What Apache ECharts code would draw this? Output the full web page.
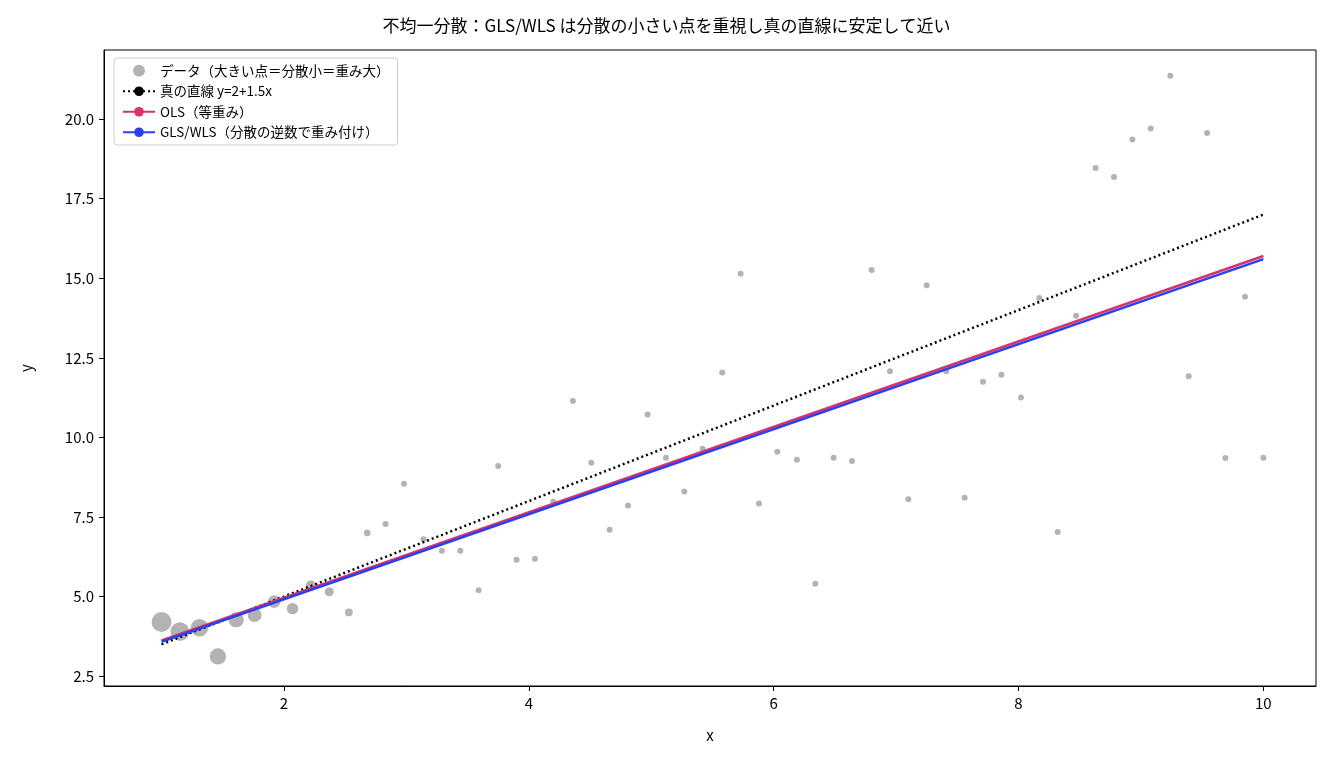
<!DOCTYPE html>
<html><head><meta charset="utf-8">
<script src="https://cdn.jsdelivr.net/npm/echarts@6/dist/echarts.min.js"></script>
<style>html,body{margin:0;padding:0;background:#fff}#c{width:1333px;height:764px}</style>
</head><body><div id="c"></div>
<script>
const xVals=[1,1.15,1.31,1.46,1.61,1.76,1.92,2.07,2.22,2.37,2.53,2.68,2.83,2.98,3.14,3.29,3.44,3.59,3.75,3.90,4.05,4.20,4.36,4.51,4.66,4.81,4.97,5.12,5.27,5.42,5.58,5.73,5.88,6.03,6.19,6.34,6.49,6.64,6.80,6.95,7.10,7.25,7.41,7.56,7.71,7.86,8.02,8.17,8.32,8.47,8.63,8.78,8.93,9.08,9.24,9.39,9.54,9.69,9.85,10];
const yVals=[4.2,3.9,4.02,3.12,4.27,4.42,4.84,4.62,5.34,5.15,4.5,7.0,7.28,8.54,6.8,6.44,6.44,5.2,9.1,6.16,6.19,7.98,11.14,9.2,7.1,7.86,10.72,9.36,8.3,9.64,12.04,15.14,7.92,9.55,9.3,5.4,9.36,9.26,15.26,12.08,8.06,14.78,12.08,8.1,11.75,11.97,11.25,14.38,7.03,13.82,18.46,18.18,19.36,19.7,21.36,11.92,19.56,9.35,14.42,9.36];
const trueLine=[[1,3.5],[10,17]];
const olsLine=[[1,3.62],[10,15.7]];
const glsLine=[[1,3.58],[10,15.6]];
const xTicks=[2,4,6,8,10];
const yTicks=[2.5,5,7.5,10,12.5,15,17.5,20];
const font='"Noto Sans CJK JP", sans-serif';
const chart=echarts.init(document.getElementById('c'));
chart.setOption({
  animation:false,
  textStyle:{fontFamily:font},
  title:{text:'不均一分散：GLS/WLS は分散の小さい点を重視し真の直線に安定して近い',left:'center',top:12,textStyle:{fontSize:17,fontWeight:'normal',color:'#000',fontFamily:font}},
  grid:{left:104,right:17,top:50,bottom:78,show:true,borderColor:'#000',borderWidth:1},
  legend:{left:114,top:58,orient:'vertical',itemGap:7,itemWidth:32,itemHeight:12,borderColor:'#ccc',borderWidth:1,borderRadius:3,padding:[6,8],textStyle:{fontSize:13.5,color:'#000'},
    data:[{name:'データ（大きい点＝分散小＝重み大）',icon:'circle'},'真の直線 y=2+1.5x','OLS（等重み）','GLS/WLS（分散の逆数で重み付け）']},
  xAxis:{type:'value',min:0.53,max:10.43,name:'x',nameLocation:'middle',nameGap:42,nameTextStyle:{fontSize:15,color:'#000'},
    axisLine:{onZero:false,lineStyle:{color:'#000'}},splitLine:{show:false},
    axisTick:{customValues:xTicks,length:5,lineStyle:{color:'#000'}},
    axisLabel:{customValues:xTicks,fontSize:15,color:'#000',margin:10}},
  yAxis:{type:'value',min:2.19,max:22.17,name:'y',nameLocation:'middle',nameGap:70,nameTextStyle:{fontSize:15,color:'#000'},
    axisLine:{show:true,onZero:false,lineStyle:{color:'#000'}},splitLine:{show:false},
    axisTick:{show:true,customValues:yTicks,length:5,lineStyle:{color:'#000'}},
    axisLabel:{customValues:yTicks,fontSize:15,color:'#000',margin:10,formatter:v=>v.toFixed(1)}},
  series:[
    {name:'データ（大きい点＝分散小＝重み大）',type:'scatter',data:xVals.map((x,i)=>[x,yVals[i]]),
     symbolSize:d=>Math.max(6,20-(d[0]-1)*8),itemStyle:{color:'#999',opacity:0.75}},
    {name:'真の直線 y=2+1.5x',type:'line',symbol:'none',data:trueLine,lineStyle:{color:'#000',width:2.5,type:[2,3]},itemStyle:{color:'#000'}},
    {name:'OLS（等重み）',type:'line',symbol:'none',data:olsLine,lineStyle:{color:'#d6336c',width:2.5},itemStyle:{color:'#d6336c'}},
    {name:'GLS/WLS（分散の逆数で重み付け）',type:'line',symbol:'none',data:glsLine,lineStyle:{color:'#2b3ff0',width:2.5},itemStyle:{color:'#2b3ff0'}}
  ]
});
</script></body></html>
